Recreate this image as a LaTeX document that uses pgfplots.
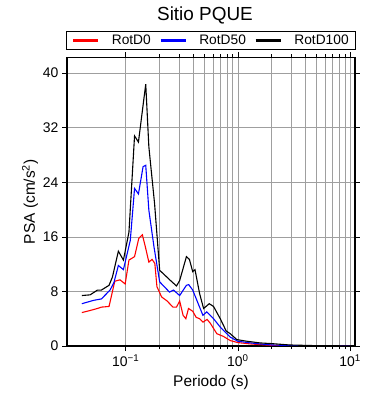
\documentclass[border=0pt]{standalone}
\usepackage{pgfplots}
\pgfplotsset{compat=1.18}
\usepackage{fontspec}
\setmainfont{Liberation Sans}
\begin{document}
\begin{tikzpicture}
\path[use as bounding box] (-67bp,-54bp) rectangle (323bp,346bp);
\begin{axis}[
  at={(0,0)}, anchor=south west,
  scale only axis, width=288bp, height=288.5bp,
  xmode=log, xmin=0.03, xmax=11.07,
  ymin=0, ymax=42.3,
  xtick={0.1,1,10},
  xticklabels={10\textsuperscript{−1},10\textsuperscript{0},10\textsuperscript{1}},
  ytick={0,8,16,24,32,40},
  /pgf/number format/assume math mode=true,
  tick align=outside,
  major tick length=5bp, minor tick length=3bp,
  xmajorgrids, xminorgrids, ymajorgrids,
  grid style={gray!75, line width=0.6bp},
  minor grid style={gray!75, line width=0.6bp},
  axis line style={line width=1.5bp},
  every tick/.style={black, line width=0.6bp},
  tick label style={font=\fontsize{14}{16}\selectfont},
  xlabel={Periodo (s)},
  ylabel={PSA (cm/s\textsuperscript{2})},
  label style={font=\fontsize{15.5}{18}\selectfont},
  xlabel style={at={(axis description cs:0.5,0)}, anchor=center, yshift=-37bp},
  ylabel style={at={(axis description cs:-0.1285,0.5)}, anchor=center},
  legend columns=3,
  legend style={at={(axis description cs:0.5,1)}, anchor=south, yshift=7.5bp,
    draw=black, line width=1.3bp, font=\fontsize{13.8}{15}\selectfont,
    inner xsep=5bp, inner ysep=1.5bp,
    /tikz/every even column/.append style={column sep=6bp},
    /tikz/every odd column/.append style={column sep=10bp}},
  legend image code/.code={\draw[line width=3.5bp] (0bp,0bp) -- (25bp,0bp);},
  clip=true,
]
\addplot[red, line width=1.1bp] coordinates {
(0.0407,4.9) (0.048,5.2) (0.056,5.5) (0.0608,5.7) (0.0711,5.8)
(0.080,9.5) (0.089,9.7) (0.0990,9.1) (0.107,12.6) (0.120,13.1)
(0.131,15.8) (0.141,16.3) (0.151,14.3) (0.161,12.3) (0.172,12.7)
(0.182,12.1) (0.190,8.7) (0.209,7.2) (0.234,6.6) (0.264,5.7)
(0.284,5.7) (0.303,6.6) (0.325,4.5) (0.344,4.0) (0.363,5.5)
(0.396,5.1) (0.425,4.2) (0.456,4.0) (0.489,3.5) (0.532,3.9)
(0.570,3.3) (0.650,1.8) (0.745,1.4) (0.855,0.8) (1.0,0.5)
(1.3,0.3) (1.6,0.2) (2.0,0.1) (3.0,0.05) (5.0,0.02) (10.0,0.01)
};
\addlegendentry{RotD0}
\addplot[blue, line width=1.1bp] coordinates {
(0.0407,6.2) (0.052,6.7) (0.0608,6.9) (0.0726,8.2) (0.0786,9.3)
(0.0861,11.8) (0.0955,11.2) (0.110,15.5) (0.120,23.1) (0.130,22.3)
(0.143,26.3) (0.151,26.5) (0.161,19.9) (0.179,14.5) (0.201,9.4)
(0.246,7.9) (0.267,8.2) (0.303,7.4) (0.348,8.9) (0.365,9.0)
(0.396,8.2) (0.488,4.5) (0.528,5.0) (0.607,4.0) (0.695,2.8)
(0.855,1.3) (1.0,0.7) (1.3,0.45) (1.58,0.3) (2.0,0.15)
(3.0,0.06) (5.0,0.03) (10.0,0.01)
};
\addlegendentry{RotD50}
\addplot[black, line width=1.1bp] coordinates {
(0.0407,7.4) (0.0482,7.5) (0.0561,8.2) (0.0608,8.2) (0.0711,8.9)
(0.0762,10.1) (0.0861,13.9) (0.0955,12.6) (0.107,16.7) (0.120,30.8)
(0.130,29.9) (0.151,38.4) (0.161,29.2) (0.181,20.9) (0.201,11.1)
(0.251,9.6) (0.284,8.8) (0.303,9.6) (0.348,13.1) (0.370,12.7)
(0.396,10.9) (0.415,11.2) (0.456,7.7) (0.495,5.5) (0.556,6.2)
(0.607,5.8) (0.697,4.0) (0.787,2.2) (0.855,1.8) (0.98,0.94)
(1.2,0.7) (1.58,0.45) (2.0,0.35) (2.9,0.15) (5.0,0.05) (10.0,0.02)
};
\addlegendentry{RotD100}
\end{axis}
\node[font=\fontsize{19}{22}\selectfont] at (138bp,331bp) {Sitio PQUE};
\end{tikzpicture}
\end{document}
